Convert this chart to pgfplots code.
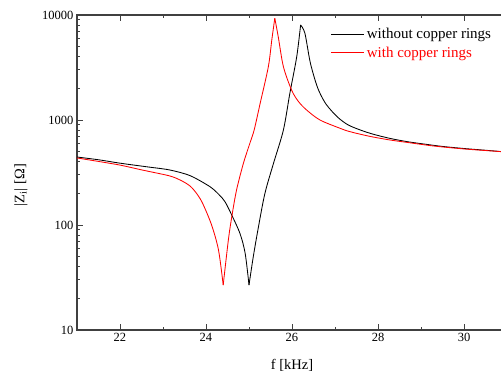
\documentclass[border=0pt]{standalone}
\usepackage{pgfplots}
\pgfplotsset{compat=1.18}
\usepackage{fontspec}
\setmainfont{Liberation Serif}
\newfontfamily\tms{Liberation Serif}
\begin{document}
\begin{tikzpicture}
\useasboundingbox (-77pt,-44pt) rectangle (424pt,330pt);
\clip (-77pt,-44pt) rectangle (424pt,330pt);
\begin{axis}[
  scale only axis, width=430pt, height=315pt,
  at={(0pt,0pt)}, anchor=south west,
  xmin=21, xmax=31, ymode=log, ymin=10, ymax=10000,
  xtick={22,24,...,30}, minor xtick={21,23,...,31},
  ytick={10,100,1000,10000}, yticklabels={10,100,1000,10000},
  axis line style={line width=1.1pt, color=black!75},
  major tick length=6pt, minor tick length=3pt,
  tick style={line width=0.8pt, color=black!75},
  tick align=inside,
  ticklabel style={font=\tms\fontsize{12.5}{14}\selectfont},
  /pgf/number format/assume math mode=true,
  xlabel={f [kHz]},
  ylabel={|Z\textsubscript{i}| [Ω]},
  label style={font=\tms\fontsize{14.5}{17}\selectfont},
  xlabel style={at={(rel axis cs:0.5,-0.111)}, anchor=center},
  ylabel style={at={(rel axis cs:-0.1302,0.46)}, anchor=center},
  legend style={draw=none, fill=none, at={(rel axis cs:0.975,0.972)}, anchor=north east,
    font=\tms\fontsize{15}{17}\selectfont, row sep=3pt},
  legend cell align=left,
  legend image code/.code={\draw[#1, line width=0.9pt] (0pt,0pt) -- (33pt,0pt);},
  every axis plot/.append style={line width=0.85pt, smooth, tension=0.5},
]
% without copper rings
\addplot[black] coordinates {
(21.00,444) (21.50,418) (22.00,388) (22.50,364) (22.70,355) (23.16,334)
(23.63,295) (24.09,232) (24.30,195) (24.44,167) (24.60,124) (24.79,83)
(24.91,54) (25.00,26.8)
};
\addlegendentry{without copper rings}
\addplot[black, forget plot] coordinates {
(25.00,26.8) (25.10,50) (25.22,96) (25.37,200) (25.57,387) (25.80,803)
(25.95,1795) (26.11,4010) (26.20,8035)
};
\addplot[black, forget plot] coordinates {
(26.20,8035) (26.30,6700) (26.42,3600) (26.55,2300) (26.65,1800) (26.80,1400)
(27.05,1074) (27.30,900) (27.60,800) (27.90,730) (28.30,665) (28.70,620)
(29.10,588) (29.50,560) (30.00,535) (30.50,515) (31.00,495)
};
% with copper rings
\addplot[red] coordinates {
(21.00,435) (21.50,403) (22.00,372) (22.50,335) (22.70,322) (23.16,293)
(23.40,268) (23.63,235) (23.80,195) (23.93,158) (24.13,100) (24.29,58) (24.40,26.8)
};
\addlegendentry{\textcolor{red}{with copper rings}}
\addplot[red, forget plot] coordinates {
(24.40,26.8) (24.52,72) (24.60,120) (24.71,215) (24.87,387) (25.02,600)
(25.12,803) (25.26,1443) (25.45,3220) (25.53,5780) (25.60,9310)
};
\addplot[red, forget plot] coordinates {
(25.60,9310) (25.68,6210) (25.80,3220) (25.99,1930) (26.15,1500) (26.34,1245)
(26.65,1000) (27.12,833) (27.35,774) (27.80,700) (28.28,645) (28.70,610)
(29.30,565) (30.00,530) (30.50,512) (31.00,495)
};
\end{axis}
\end{tikzpicture}
\end{document}
